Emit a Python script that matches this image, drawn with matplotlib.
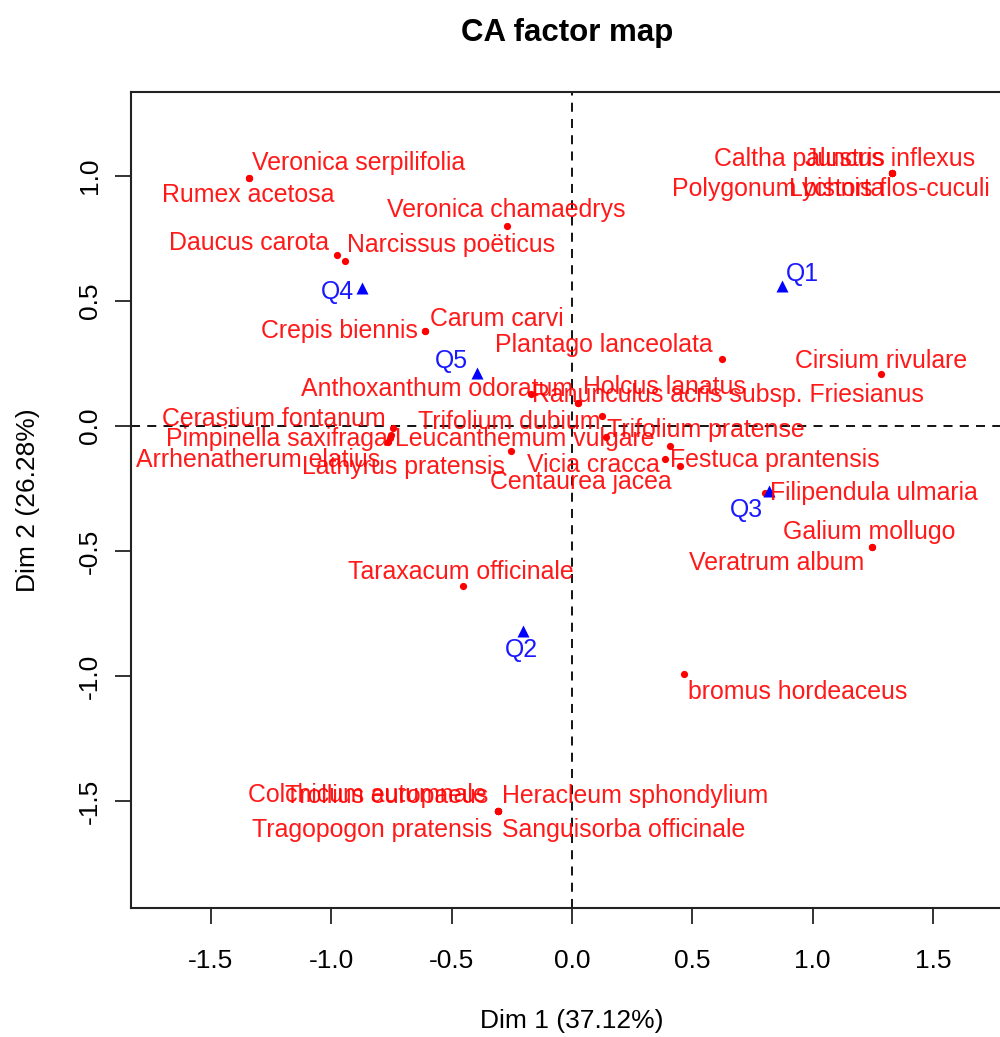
import matplotlib
matplotlib.use("Agg")
import matplotlib.pyplot as plt

# ---------------- data ----------------
species = [
    "Veronica serpilifolia", "Rumex acetosa", "Veronica chamaedrys", "Daucus carota",
    "Narcissus poëticus", "Crepis biennis", "Carum carvi", "Plantago lanceolata",
    "Ranunculus acris subsp. Friesianus", "Anthoxanthum odoratum", "Holcus lanatus",
    "Trifolium dubium", "Trifolium pratense", "Cerastium fontanum", "Pimpinella saxifraga",
    "Arrhenatherum elatius", "Leucanthemum vulgare", "Lathyrus pratensis", "Vicia cracca",
    "Festuca prantensis", "Centaurea jacea", "Filipendula ulmaria", "Galium mollugo",
    "Veratrum album", "Taraxacum officinale", "bromus hordeaceus", "Colchicum autumnale",
    "Trollius europaeus", "Heracleum sphondylium", "Tragopogon pratensis",
    "Sanguisorba officinale", "Caltha palustris", "Juncus inflexus", "Polygonum bistorta",
    "Lychnis flos-cuculi", "Cirsium rivulare",
]
species_dim1 = [
    -1.341, -1.341, -0.271, -0.978,
    -0.943, -0.611, -0.611, 0.622,
    -0.172, 0.026, 0.026,
    0.126, 0.141, -0.742, -0.756,
    -0.763, -0.750, -0.255, 0.386,
    0.407, 0.449, 0.802, 1.245,
    1.245, -0.452, 0.467, -0.309,
    -0.309, -0.309, -0.309,
    -0.309, 1.328, 1.328, 1.328,
    1.328, 1.283,
]
species_dim2 = [
    0.991, 0.991, 0.801, 0.684,
    0.661, 0.381, 0.381, 0.267,
    0.128, 0.091, 0.091,
    0.041, -0.043, -0.009, -0.049,
    -0.063, -0.036, -0.100, -0.133,
    -0.079, -0.159, -0.268, -0.483,
    -0.483, -0.639, -0.992, -1.538,
    -1.538, -1.538, -1.538,
    -1.538, 1.011, 1.011, 1.011,
    1.011, 0.207,
]

quarters = ["Q1", "Q2", "Q3", "Q4", "Q5"]
quarter_dim1 = [0.874, -0.202, 0.818, -0.874, -0.396]
quarter_dim2 = [0.560, -0.819, -0.260, 0.551, 0.213]

title = "CA factor map"
xlab = "Dim 1 (37.12%)"
ylab = "Dim 2 (26.28%)"
xticks = [-1.5, -1.0, -0.5, 0.0, 0.5, 1.0, 1.5]
yticks = [-1.5, -1.0, -0.5, 0.0, 0.5, 1.0]

# ---------------- label placement (alignment, offset in pixels) ----------------
species_label_pos = [
    ("left", 3, 15), ("center", -1, -17), ("center", 0, 16), ("right", -8, 12),
    ("left", 2, 16), ("right", -7, 0), ("left", 5, 12), ("right", -9, 14),
    ("left", 1, -1), ("right", -5, 14), ("left", 5, 16),
    ("right", -2, -6), ("left", 1, 7), ("right", -8, 9), ("right", -2, -1),
    ("right", -8, -18), ("left", 4, -4), ("right", -6, -16), ("right", -5, -6),
    ("left", 0, -14), ("right", -8, -16), ("left", 5, 0), ("center", -2, 15),
    ("right", -7, -16), ("center", -2, 14), ("left", 4, -18), ("right", -11, 15),
    ("right", -9, 15), ("left", 4, 15), ("right", -5, -20),
    ("left", 4, -20), ("right", -7, 14), ("center", -2, 14), ("right", -7, -16),
    ("center", -2, -16), ("center", 0, 13),
]
quarter_label_pos = [
    ("left", 4, 12), ("center", -2, -19), ("right", -6, -19), ("right", -8, -4), ("right", -9, 12),
]

# ---------------- figure ----------------
plt.rcParams["axes.unicode_minus"] = False
plt.rcParams["font.family"] = ["Liberation Sans", "DejaVu Sans"]

W, H = 1000, 1037
fig = plt.figure(figsize=(W / 100, H / 100), dpi=100)
ax_left, ax_right, ax_top, ax_bottom = 131, 1012, 92, 908
ax = fig.add_axes([ax_left / W, 1 - ax_bottom / H, (ax_right - ax_left) / W, (ax_bottom - ax_top) / H])

ax.set_xlim(-1.832, 1.828)
ax.set_ylim(-1.928, 1.336)

ax.axvline(0, color="black", lw=1.3, ls=(0, (5, 4)), zorder=1)
ax.axhline(0, color="black", lw=1.3, ls=(0, (5, 4)), zorder=1)

ax.plot(species_dim1, species_dim2, ls="none", marker="o", ms=5.2, color="#ff0000",
        mec="none", zorder=3)
ax.plot(quarter_dim1, quarter_dim2, ls="none", marker="^", ms=9, color="#0000ff",
        mec="none", zorder=3)

lab_fs = 17.9
for name, x, y, (ha, dx, dy) in zip(species, species_dim1, species_dim2, species_label_pos):
    ax.annotate(name, (x, y), xytext=(dx, dy), textcoords="offset pixels",
                ha=ha, va="center", color="#ff0000", fontsize=lab_fs, alpha=0.9, zorder=4)
for name, x, y, (ha, dx, dy) in zip(quarters, quarter_dim1, quarter_dim2, quarter_label_pos):
    ax.annotate(name, (x, y), xytext=(dx, dy), textcoords="offset pixels",
                ha=ha, va="center", color="#0000ff", fontsize=lab_fs, alpha=0.9, zorder=4)

ax.set_xticks(xticks)
ax.set_yticks(yticks)
ax.set_xticklabels([f"{v:.1f}" for v in xticks], fontsize=19)
ax.set_yticklabels([f"{v:.1f}" for v in yticks], fontsize=19, rotation=90, va="center")
ax.tick_params(axis="both", direction="out", length=11.5, width=1.3, color="#222222")
ax.tick_params(axis="x", pad=18)
ax.tick_params(axis="y", pad=9.5)

for s in ax.spines.values():
    s.set_linewidth(1.5)
    s.set_color("#222222")

ax.set_xlabel(xlab, fontsize=19, labelpad=26)
ax.set_ylabel(ylab, fontsize=19, labelpad=27)
fig.text(0.567, 1 - 33 / H, title, ha="center", va="center", fontsize=22.5,
         fontweight="bold")

fig.savefig("out.png", dpi=100)
